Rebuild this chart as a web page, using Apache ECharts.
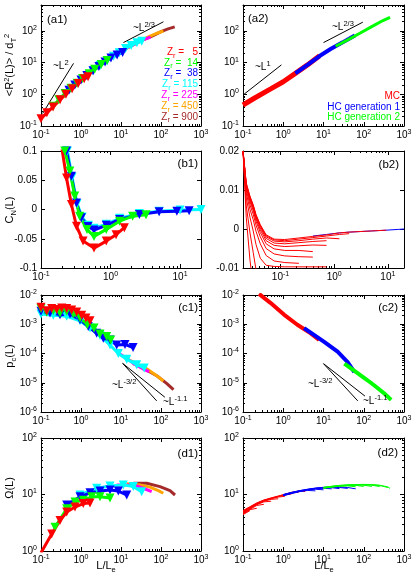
<!DOCTYPE html>
<html>
<head>
<meta charset="utf-8">
<title>Chain statistics, MC vs HC</title>
<script src="https://cdn.jsdelivr.net/npm/echarts@6.0.0/dist/echarts.min.js"></script>
<style>
  html, body { margin: 0; padding: 0; background: #fff; }
  #chart { width: 415px; height: 581px; }
</style>
</head>
<body>
<div id="chart"></div>
<script>
// ---------- values ----------
const zrValues = ['5', '14', '38', '115', '225', '450', '900'];
const hcNames = ['MC', 'HC generation 1', 'HC generation 2'];

// (a1) <R^2(L)>/d_T^2, one list per Z_r
const a1X = [
  [0.1, 0.14, 0.2, 0.3, 0.42, 0.6, 0.85, 1.2, 1.5],
  [0.2, 0.28, 0.4, 0.56, 0.8, 1.1, 1.6, 2.2, 3.2, 4.5],
  [0.5, 0.7, 1.0, 1.4, 2.0, 2.8, 4.0, 5.6, 8.0, 11],
  [2, 3, 4.5, 6.5, 9, 13, 18, 25, 33],
  [6, 10, 16, 25, 38, 55],
  [10, 18, 30, 50, 80, 115],
  [15, 30, 60, 100, 150, 220]
];
const a1Y = [
  [0.17, 0.26, 0.40, 0.68, 1.0, 1.5, 2.2, 3.1, 3.6],
  [0.42, 0.68, 1.07, 1.55, 2.24, 3.16, 4.5, 6.2, 8.7, 11.7],
  [1.35, 1.97, 2.82, 3.94, 5.6, 7.6, 10.5, 14.1, 17.5, 21],
  [5.6, 8.1, 11.5, 15.8, 20.4, 28, 34.7, 42.7, 47],
  [14.8, 22.4, 31.6, 41.7, 55, 64],
  [22.4, 33.9, 47.9, 66, 85, 100],
  [30.2, 47.9, 69, 95.5, 117, 135]
];
const a1GuideL2X = [0.11, 0.65];
const a1GuideL2Y = [0.25, 9.5];
const a1GuideL23X = [11.5, 115];
const a1GuideL23Y = [43, 195];

// (a2) MC, HC generation 1, HC generation 2
const a2X = [
  [0.1, 0.2, 0.5, 1, 2, 4, 8],
  [2, 4, 8, 15, 30, 60],
  [20, 40, 80, 150, 300, 450]
];
const a2Y = [
  [0.46, 0.78, 1.51, 2.5, 4.6, 8.5, 16.6],
  [4.6, 8.5, 16.2, 26.9, 43.7, 72.4],
  [33, 52.5, 85, 132, 214, 270]
];
const a2GuideL1X = [0.1, 0.9];
const a2GuideL1Y = [0.95, 8.5];
const a2GuideL23X = [10, 95];
const a2GuideL23Y = [43, 190];

// (b1) C_N(L), Z_r = 5, 14, 38, 115
const b1X = [
  [0.185, 0.233, 0.274, 0.324, 0.403, 0.578, 0.867, 1.2, 1.58],
  [0.2, 0.22, 0.26, 0.306, 0.36, 0.459, 0.578, 0.867, 1.35, 2.08, 3.24],
  [0.215, 0.233, 0.274, 0.324, 0.381, 0.474, 0.578, 0.867, 1.35, 2.6, 5.0, 9, 13.5],
  [0.22, 0.24, 0.28, 0.33, 0.39, 0.48, 0.58, 0.87, 1.35, 2.6, 5, 10, 20]
];
const b1Y = [
  [0.13, 0.054, 0.0086, -0.0286, -0.054, -0.066, -0.054, -0.043, -0.031],
  [0.125, 0.1, 0.066, 0.023, -0.0114, -0.034, -0.046, -0.034, -0.02, -0.0114, -0.009],
  [0.13, 0.1, 0.057, 0.011, -0.014, -0.029, -0.035, -0.027, -0.017, -0.0086, -0.004, -0.003, -0.002],
  [0.13, 0.1, 0.055, 0.01, -0.013, -0.027, -0.032, -0.025, -0.015, -0.007, -0.003, -0.001, 0]
];

// (b2) C_N(L), MC family (shared L grid, each curve stops where it ends) + HC
const b2RedX = [0.02, 0.023, 0.027, 0.031, 0.035, 0.042, 0.054, 0.076, 0.12, 0.22, 0.4, 0.72, 1.25, 1.9, 5, 9.4];
const b2RedY = [
  [0.02, 0.0118, 0.0084, 0.0062, 0.0037, 0.0011, -0.0015, -0.0026, -0.0027, -0.0023, -0.0019, -0.0015, -0.001, -0.0008, -0.0005, -0.0003],
  [0.02, 0.0116, 0.0082, 0.006, 0.0035, 0.0009, -0.0017, -0.0028, -0.003, -0.0026, -0.0022, -0.0018, -0.0014, -0.0012],
  [0.02, 0.0114, 0.008, 0.0058, 0.0033, 0.0007, -0.002, -0.0031, -0.0033, -0.003, -0.0026, -0.0023, -0.0025],
  [0.02, 0.0112, 0.0078, 0.0055, 0.003, 0.0003, -0.0024, -0.0036, -0.0038, -0.0035, -0.0032, -0.003],
  [0.02, 0.011, 0.0075, 0.0052, 0.0026, -0.0002, -0.003, -0.0042, -0.0045, -0.0043, -0.0041, -0.0042],
  [0.02, 0.0106, 0.007, 0.0047, 0.002, -0.0009, -0.0038, -0.0051, -0.0055, -0.0055, -0.0058],
  [0.02, 0.01, 0.0062, 0.0038, 0.001, -0.002, -0.005, -0.0064, -0.0069, -0.0071, -0.0072],
  [0.02, 0.0092, 0.005, 0.0024, -0.0006, -0.0038, -0.0068, -0.0082, -0.0086, -0.0088],
  [0.02, 0.008, 0.003, -0.0005, -0.004, -0.0075, -0.0093, -0.0096, -0.0097, -0.0097, -0.0097, -0.0097],
  [0.02, 0.006, -0.001, -0.006, -0.0105],
  [0.02, 0.003, -0.008, -0.015]
];
const b2BlueX = [0.4, 0.72, 1.25, 1.9, 5, 9.4, 16, 20];
const b2BlueY = [-0.0018, -0.0014, -0.001, -0.0008, -0.0005, -0.0003, -0.0001, 0];

// (c1) p_c(L), one list per Z_r
const c1X = [
  [0.1, 0.139, 0.185, 0.247, 0.329, 0.439, 0.585, 0.78, 1.04, 1.33, 1.68],
  [0.1, 0.139, 0.203, 0.299, 0.439, 0.643, 0.944, 1.44, 2.11, 2.99, 4.39, 5.52],
  [0.1, 0.168, 0.299, 0.531, 0.944, 1.52, 2.47, 3.61, 5.31, 7.8, 12.6, 20],
  [0.1, 0.203, 0.439, 0.944, 1.68, 2.99, 5.31, 8.57, 13.9, 24.7, 38],
  [8, 14, 22, 35, 50],
  [14, 25, 44, 78, 115],
  [20, 40, 80, 138, 205]
];
const c1Y = [
  [3.8e-3, 2.9e-3, 3.45e-3, 3.2e-3, 3.6e-3, 3.45e-3, 3.1e-3, 2.64e-3, 2.02e-3, 1.64e-3, 1.32e-3],
  [3.45e-3, 2.64e-3, 2.94e-3, 2.44e-3, 2.79e-3, 2.25e-3, 1.64e-3, 9.6e-4, 7.4e-4, 4.6e-4, 3.8e-4, 2.9e-4],
  [2.79e-3, 2.44e-3, 2.13e-3, 2.25e-3, 1.43e-3, 8.4e-4, 4.9e-4, 3.3e-4, 2.9e-4, 1.95e-4, 2.05e-4, 1.6e-4],
  [2.25e-3, 2.02e-3, 1.87e-3, 1.32e-3, 7.4e-4, 4.1e-4, 1.95e-4, 1.0e-4, 6.4e-5, 4.15e-5, 3.2e-5],
  [1.1e-4, 6.8e-5, 4.3e-5, 3.0e-5, 2.4e-5],
  [6.6e-5, 4.4e-5, 3.0e-5, 1.75e-5, 1.15e-5],
  [4.6e-5, 2.9e-5, 1.7e-5, 9.5e-6, 5.8e-6]
];
const c1Guide32X = [11, 78];
const c1Guide32Y = [4.6e-5, 2.4e-6];
const c1Guide11X = [11, 125];
const c1Guide11Y = [4.6e-5, 3.2e-6];

// (c2) p_c(L), MC / HC gen 1 / HC gen 2
const c2X = [
  [0.25, 0.48, 1.04, 2.24, 4.82, 7.8],
  [3.3, 10.4, 22.4, 39.8, 58.5],
  [33, 60, 104, 150, 224, 330, 480]
];
const c2Y = [
  [1.09e-2, 5.4e-3, 2.14e-3, 9.6e-4, 4.9e-4, 2.9e-4],
  [7.4e-4, 2.5e-4, 1.15e-4, 5.1e-5, 2.3e-5],
  [4.5e-5, 2.5e-5, 1.45e-5, 1.0e-5, 6.5e-6, 4.2e-6, 2.6e-6]
];
const c2Guide32X = [10, 71];
const c2Guide32Y = [4.5e-5, 2.4e-6];
const c2Guide11X = [10, 107];
const c2Guide11Y = [4.5e-5, 3.5e-6];

// (d1) Omega(L), one list per Z_r
const d1X = [
  [0.1, 0.185, 0.299, 0.439, 0.708, 1.14, 1.68],
  [0.224, 0.439, 0.708, 1.14, 1.85, 2.99, 5.31],
  [0.439, 0.944, 1.68, 2.99, 5.31, 8.57, 13.9],
  [0.944, 2.47, 5.31, 11.4, 20.3, 32.9],
  [7.8, 20.3, 36.1, 58.5],
  [13.9, 29.9, 53.1, 85.8, 114],
  [20.3, 43.9, 94.4, 168, 224]
];
const d1Y = [
  [0.93, 2.0, 3.47, 4.9, 6.0, 6.9, 7.1],
  [2.63, 5.6, 7.4, 7.9, 9.1, 9.1, 8.7],
  [6.5, 9.1, 10.7, 11.5, 12.0, 11.5, 9.8],
  [9.8, 12.9, 14.1, 14.8, 13.8, 11.2],
  [14.8, 14.8, 12.9, 11.2],
  [15.5, 14.8, 13.5, 11.7, 10.5],
  [15.8, 15.8, 13.8, 11.7, 9.8]
];

// (d2) Omega(L), families of MC / HC gen 1 / HC gen 2 curves
const d2RedX = [0.1, 0.15, 0.22, 0.33, 0.5, 0.75, 1.1, 1.6, 2.4, 3.5];
const d2RedY = [
  [5.2, 6.1, 7.1, 8.0, 8.7, 9.4, 10.1, 10.9, 11.5, 11.3],
  [5.1, 6.0, 7.0, 7.9, 8.6, 9.3, 10.0, 10.7, 10.9],
  [5.0, 5.9, 6.9, 7.8, 8.5, 9.2, 9.8, 10.2],
  [4.9, 5.8, 6.8, 7.7, 8.4, 9.0, 9.3],
  [4.8, 5.7, 6.7, 7.6, 8.2, 8.4],
  [4.7, 5.6, 6.6, 7.4, 7.6],
  [4.6, 5.5, 6.4, 6.7],
  [4.5, 5.4, 5.7],
  [4.4, 5.2]
];
const d2BlueX = [1, 1.6, 2.5, 4, 6.3, 10, 16, 25, 40, 63];
const d2BlueY = [
  [10.0, 10.9, 11.7, 12.4, 13.0, 13.4, 13.6, 13.6, 13.3, 12.6],
  [9.9, 10.8, 11.6, 12.3, 12.9, 13.3, 13.4, 13.3, 12.8],
  [9.8, 10.7, 11.5, 12.2, 12.8, 13.1, 13.2, 12.7],
  [9.7, 10.6, 11.4, 12.1, 12.6, 12.9, 12.6],
  [9.6, 10.5, 11.3, 12.0, 12.4, 12.1],
  [9.5, 10.4, 11.2, 11.8, 11.6]
];
const d2GreenX = [10, 16, 25, 40, 63, 100, 160, 250, 400, 450];
const d2GreenY = [
  [13.4, 14.0, 14.5, 14.8, 15.0, 15.1, 15.0, 14.6, 13.6, 12.8],
  [13.3, 13.9, 14.4, 14.7, 14.9, 15.0, 14.9, 14.4, 13.3],
  [13.2, 13.8, 14.3, 14.6, 14.8, 14.8, 14.6, 13.8],
  [13.1, 13.7, 14.2, 14.5, 14.7, 14.6, 13.9],
  [13.0, 13.6, 14.1, 14.4, 14.5, 13.9],
  [12.9, 13.5, 14.0, 14.2, 13.7]
];

// axis extents per panel (a1, a2, b1, b2, c1, c2, d1, d2)
const xRanges = [[0.1, 1000], [0.1, 1000], [0.1, 20], [0.02, 20], [0.1, 1000], [0.1, 1000], [0.1, 1000], [0.1, 1000]];
const yRanges = [[0.1, 661], [0.1, 661], [-0.1, 0.1], [-0.01, 0.02], [1e-6, 1e-2], [1e-6, 1e-2], [1, 100], [1, 100]];
const ySteps = [null, null, 0.05, 0.01, null, null, null, null];

// ---------- layout and style ----------
const FONT = 'Liberation Sans, Arial, Helvetica, sans-serif';
const zrColors = ['#ff0000', '#00ff00', '#0000ff', '#00ffff', '#ff00ff', '#ffa500', '#a52a2a'];
const hcColors = ['#ff0000', '#0000ff', '#00ff00'];
const boxes = [
  [41, 5, 160, 121], [243, 5, 161, 121],
  [41, 151, 160, 117], [243, 151, 161, 117],
  [41, 295, 160, 117], [243, 295, 161, 117],
  [41, 438, 160, 113], [243, 438, 161, 113]
];

const tickRich = {
  b: { fontSize: 10, lineHeight: 13, fontFamily: FONT, color: '#000' },
  s: { fontSize: 7, lineHeight: 7, verticalAlign: 'top', fontFamily: FONT, color: '#000' }
};

function powLabel(v) {
  const e = Math.log10(v);
  const r = Math.round(e);
  if (Math.abs(e - r) > 1e-6) return '';
  return '{b|10}{s|' + r + '}';
}

function axisOpt(i, range, step, pos, withLabels) {
  const isLog = step == null;
  const horizontal = pos === 'bottom' || pos === 'top';
  const ax = {
    type: isLog ? 'log' : 'value',
    gridIndex: i,
    position: pos,
    min: range[0],
    max: range[1],
    axisLine: { show: true, onZero: false, lineStyle: { color: '#000', width: 1 } },
    axisTick: { show: true, inside: true, length: 4, lineStyle: { color: '#000', width: 1 } },
    minorTick: { show: isLog, splitNumber: 9, length: 2, lineStyle: { color: '#000', width: 1 } },
    splitLine: { show: false },
    axisLabel: {
      show: withLabels,
      margin: horizontal ? 3 : 4,
      fontSize: 10,
      fontFamily: FONT,
      color: '#000',
      showMinLabel: true,
      showMaxLabel: true
    }
  };
  if (isLog) {
    ax.logBase = 10;
    ax.axisLabel.formatter = powLabel;
    ax.axisLabel.rich = tickRich;
  } else {
    ax.interval = step;
  }
  return ax;
}

const grid = [];
const xAxis = [];
const yAxis = [];
boxes.forEach((b, i) => {
  grid.push({ left: b[0], top: b[1], width: b[2], height: b[3], containLabel: false });
  xAxis.push(axisOpt(i, xRanges[i], null, 'bottom', true));
  xAxis.push(axisOpt(i, xRanges[i], null, 'top', false));
  yAxis.push(axisOpt(i, yRanges[i], ySteps[i], 'left', true));
  yAxis.push(axisOpt(i, yRanges[i], ySteps[i], 'right', false));
});

function curve(i, xs, ys, color, width, marker) {
  return {
    type: 'line',
    xAxisIndex: 2 * i,
    yAxisIndex: 2 * i,
    data: ys.map((y, k) => [xs[k], y]),
    showSymbol: !!marker,
    symbol: 'triangle',
    symbolRotate: 180,
    symbolSize: marker || 0,
    lineStyle: { color, width },
    itemStyle: { color, borderWidth: 0 },
    clip: true,
    silent: true
  };
}

const series = [];
// Z_r panels: largest Z_r first so Z_r = 5 ends on top
for (let k = 6; k >= 0; k--) {
  const m = k <= 3 ? 9 : 0;
  series.push(curve(0, a1X[k], a1Y[k], zrColors[k], 3, m));
  series.push(curve(4, c1X[k], c1Y[k], zrColors[k], 3, m));
  series.push(curve(6, d1X[k], d1Y[k], zrColors[k], 3, m));
}
for (let k = 3; k >= 0; k--) {
  series.push(curve(2, b1X[k], b1Y[k], zrColors[k], 3, 9));
}
// guide lines
series.push(curve(0, a1GuideL2X, a1GuideL2Y, '#000', 1));
series.push(curve(0, a1GuideL23X, a1GuideL23Y, '#000', 1));
series.push(curve(1, a2GuideL1X, a2GuideL1Y, '#000', 1));
series.push(curve(1, a2GuideL23X, a2GuideL23Y, '#000', 1));
series.push(curve(4, c1Guide32X, c1Guide32Y, '#000', 1));
series.push(curve(4, c1Guide11X, c1Guide11Y, '#000', 1));
series.push(curve(5, c2Guide32X, c2Guide32Y, '#000', 1));
series.push(curve(5, c2Guide11X, c2Guide11Y, '#000', 1));
// MC / HC panels
const hcWidths = [5, 4, 3];
for (let k = 0; k < 3; k++) {
  series.push(curve(1, a2X[k], a2Y[k], hcColors[k], hcWidths[k]));
  series.push(curve(5, c2X[k], c2Y[k], hcColors[k], 4));
}
series.push(curve(3, b2BlueX, b2BlueY, hcColors[1], 1));
b2RedY.forEach(ys => series.push(curve(3, b2RedX, ys, hcColors[0], 1)));
d2RedY.forEach(ys => series.push(curve(7, d2RedX, ys, hcColors[0], 1)));
d2BlueY.forEach(ys => series.push(curve(7, d2BlueX, ys, hcColors[1], 1)));
d2GreenY.forEach(ys => series.push(curve(7, d2GreenX, ys, hcColors[2], 1)));

// ---------- text ----------
const textRich = {
  sup: { fontSize: 7.5, lineHeight: 8, verticalAlign: 'top', fontFamily: FONT },
  sub: { fontSize: 7.5, lineHeight: 8, verticalAlign: 'bottom', fontFamily: FONT }
};
function txt(x, y, text, opt) {
  return {
    type: 'text', x, y, silent: true, z: 100,
    style: Object.assign({
      text, fill: '#000', fontSize: 11, fontFamily: FONT, lineHeight: 15,
      align: 'left', verticalAlign: 'middle', rich: textRich
    }, opt || {})
  };
}
function ytitle(y, text) {
  const t = txt(10, y, text, { align: 'center' });
  t.rotation = Math.PI / 2;
  return t;
}

const graphic = [
  txt(47, 20, '(a1)', { fontSize: 11.5 }),
  txt(248, 19, '(a2)', { fontSize: 11.5 }),
  txt(198, 164, '(b1)', { fontSize: 11.5, align: 'right' }),
  txt(399, 165, '(b2)', { fontSize: 11.5, align: 'right' }),
  txt(198, 308, '(c1)', { fontSize: 11.5, align: 'right' }),
  txt(398, 308, '(c2)', { fontSize: 11.5, align: 'right' }),
  txt(198, 454, '(d1)', { fontSize: 11.5, align: 'right' }),
  txt(398, 453, '(d2)', { fontSize: 11.5, align: 'right' }),
  txt(53, 66, '~L{sup|2}', { fontSize: 10 }),
  txt(133, 28, '~L{sup|2/3}', { fontSize: 10 }),
  txt(255, 67, '~L{sup|1}', { fontSize: 10 }),
  txt(332, 27, '~L{sup|2/3}', { fontSize: 10 }),
  txt(112, 385, '~L{sup|-3/2}', { fontSize: 10 }),
  txt(163, 402, '~L{sup|-1.1}', { fontSize: 10 }),
  txt(308, 384, '~L{sup|-3/2}', { fontSize: 10 }),
  txt(363, 401, '~L{sup|-1.1}', { fontSize: 10 }),
  ytitle(65, '<R{sup|2}(L)> / d{sub|T}{sup|2}'),
  ytitle(210, 'C{sub|N}(L)'),
  ytitle(356, 'p{sub|c}(L)'),
  ytitle(488, '\u03A9(L)'),
  txt(106, 566, 'L/L{sub|e}', { align: 'center' }),
  txt(324, 566, 'L/L{sub|e}', { align: 'center' })
];
const zrPad = ['   ', '  ', '  ', ' ', ' ', ' ', ' '];
zrValues.forEach((v, k) => {
  graphic.push(txt(198, 52 + 10.8 * k, 'Z{sub|r} =' + zrPad[k] + v,
    { fill: zrColors[k], align: 'right', fontSize: 10 }));
});
hcNames.forEach((n, k) => {
  graphic.push(txt(400, 96 + 10.8 * k, n, { fill: hcColors[k], align: 'right', fontSize: 10 }));
});

const chart = echarts.init(document.getElementById('chart'), null, { renderer: 'canvas' });
chart.setOption({
  animation: false,
  backgroundColor: '#fff',
  textStyle: { fontFamily: FONT },
  grid,
  xAxis,
  yAxis,
  series,
  graphic
});
</script>
</body>
</html>
